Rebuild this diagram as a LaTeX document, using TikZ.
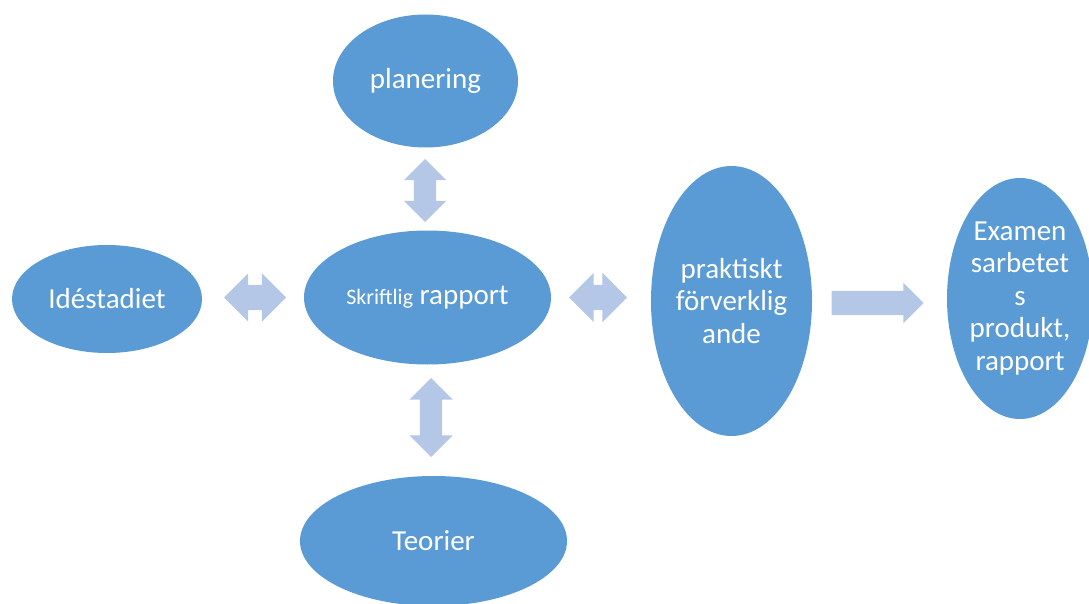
\documentclass[tikz,border=0pt]{standalone}
\usepackage{fontspec}
\setmainfont{Carlito}
\usetikzlibrary{shapes.geometric,shapes.arrows}
\definecolor{ellblue}{HTML}{5B9BD5}
\definecolor{arrblue}{HTML}{B4C7E7}
\tikzset{
  bubble/.style={ellipse, fill=ellblue, draw=none, inner sep=0pt, text=white, align=center,
    font=\fontsize{29}{32.5}\selectfont},
  dblarrow/.style={double arrow, fill=arrblue, draw=none, inner xsep=0pt, double arrow tip angle=90},
  sglarrow/.style={single arrow, fill=arrblue, draw=none, inner xsep=0pt, single arrow tip angle=90}
}
\begin{document}
\begin{tikzpicture}[x=1pt,y=-1pt]
\useasboundingbox (0,0) rectangle (1089,604);
\node[bubble, minimum width=185pt, minimum height=133pt] (plan) at (425.5,81) {planering};
\node[bubble, minimum width=190pt, minimum height=108pt] (ide) at (107,299) {Idéstadiet};
\node[bubble, minimum width=247pt, minimum height=134pt] (skr) at (427.5,297.5) {{\fontsize{22}{24}\selectfont Skriftlig} rapport};
\node[bubble, minimum width=267pt, minimum height=130pt] (teo) at (433.5,541) {Teorier};
\node[bubble, minimum width=161pt, minimum height=270pt] (prak) at (731.5,301) {praktiskt\\förverklig\\ande};
\node[bubble, minimum width=146pt, minimum height=241pt] (exam) at (1020,298.5) {Examen\\sarbetet\\s\\produkt,\\rapport};
% arrows
\node[dblarrow, minimum height=62pt, inner ysep=12.5pt, double arrow head extend=11.5pt] (a1) at (255,297.5) {};
\node[dblarrow, minimum height=58pt, inner ysep=12.5pt, double arrow head extend=12pt] (a2) at (598,297.5) {};
\node[dblarrow, rotate=90, minimum height=63pt, inner ysep=11pt, double arrow head extend=10pt] (a3) at (425,190.5) {};
\node[dblarrow, rotate=90, minimum height=79pt, inner ysep=11pt, double arrow head extend=10.5pt] (a4) at (431,417.5) {};
\node[sglarrow, minimum height=92pt, inner ysep=12pt, single arrow head extend=8pt] (a5) at (871.5,303) {};
\end{tikzpicture}
\end{document}
